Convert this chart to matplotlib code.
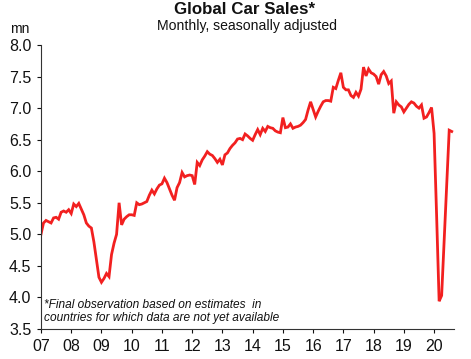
import numpy as np
import matplotlib
matplotlib.use('Agg')
from matplotlib import pyplot as plt

plt.rcParams['font.family'] = ['Liberation Sans', 'DejaVu Sans']

# monthly global car sales, mn, seasonally adjusted (Jan 2007 - Aug 2020)
y2007 = [5.00, 5.18, 5.22, 5.20, 5.18, 5.26, 5.27, 5.24, 5.35, 5.37, 5.35, 5.39]
y2008 = [5.33, 5.48, 5.44, 5.49, 5.40, 5.31, 5.18, 5.13, 5.10, 4.88, 4.60, 4.32]
y2009 = [4.24, 4.30, 4.38, 4.33, 4.68, 4.86, 5.00, 5.50, 5.15, 5.24, 5.28, 5.31]
y2010 = [5.31, 5.30, 5.50, 5.47, 5.48, 5.50, 5.52, 5.62, 5.70, 5.64, 5.72, 5.78]
y2011 = [5.80, 5.89, 5.82, 5.72, 5.62, 5.54, 5.74, 5.82, 5.98, 5.91, 5.93, 5.94]
y2012 = [5.93, 5.79, 6.14, 6.09, 6.18, 6.24, 6.31, 6.27, 6.25, 6.20, 6.14, 6.19]
y2013 = [6.10, 6.26, 6.29, 6.36, 6.41, 6.45, 6.51, 6.52, 6.50, 6.59, 6.56, 6.52]
y2014 = [6.49, 6.58, 6.66, 6.58, 6.68, 6.63, 6.71, 6.69, 6.68, 6.64, 6.62, 6.61]
y2015 = [6.85, 6.69, 6.70, 6.75, 6.68, 6.70, 6.71, 6.73, 6.77, 6.82, 6.97, 7.10]
y2016 = [6.98, 6.86, 6.95, 7.03, 7.10, 7.12, 7.12, 7.11, 7.33, 7.31, 7.44, 7.56]
y2017 = [7.33, 7.29, 7.29, 7.20, 7.17, 7.25, 7.19, 7.30, 7.65, 7.51, 7.62, 7.56]
y2018 = [7.54, 7.50, 7.38, 7.53, 7.58, 7.51, 7.39, 7.43, 6.92, 7.10, 7.05, 7.02]
y2019 = [6.94, 7.00, 7.06, 7.10, 7.08, 7.03, 7.00, 7.05, 6.84, 6.86, 6.93, 7.01]
y2020 = [6.60, 5.30, 3.94, 4.03, 4.90, 5.78, 6.65, 6.63]

sales = np.array(y2007 + y2008 + y2009 + y2010 + y2011 + y2012 + y2013
                 + y2014 + y2015 + y2016 + y2017 + y2018 + y2019 + y2020)
dates = 2007 + np.arange(len(sales)) / 12

years = list(range(2007, 2021))
year_labels = ['%02d' % (y % 100) for y in years]
yticks = np.arange(3.5, 8.01, 0.5)

fig = plt.figure(figsize=(4.71, 3.59), dpi=100)
ax = fig.add_axes([0.087, 0.0836, 0.877, 0.791])

ax.plot(dates, sales, color='#f22020', linewidth=2.0, solid_joinstyle='miter')

ax.set_xlim(2007, 2020.66)
ax.set_ylim(3.5, 8.0)
ax.set_xticks(years)
ax.set_xticklabels(year_labels)
ax.set_yticks(yticks)
ax.set_yticklabels(['%.1f' % v for v in yticks])

for s in ['top', 'right']:
    ax.spines[s].set_visible(False)
for s in ['left', 'bottom']:
    ax.spines[s].set_color('#333333')
    ax.spines[s].set_linewidth(0.8)
ax.tick_params(axis='y', direction='out', length=3, width=0.8, pad=4,
               labelsize=11.5, colors='#111111')
ax.tick_params(axis='x', direction='out', length=3, width=0.8, pad=4.5,
               labelsize=11.5, colors='#111111')

fig.text(0.519, 0.973, 'Global Car Sales*', ha='center', va='center',
         fontsize=12.2, fontweight='bold', color='#111111')
fig.text(0.524, 0.928, 'Monthly, seasonally adjusted', ha='center',
         va='center', fontsize=10.1, color='#111111')
fig.text(0.042, 0.919, 'mn', ha='center', va='center', fontsize=10,
         color='#111111')
fig.text(0.093, 0.150, '*Final observation based on estimates  in',
         ha='left', va='center', fontsize=8.6, style='italic', color='#111111')
fig.text(0.093, 0.114, 'countries for which data are not yet available',
         ha='left', va='center', fontsize=8.6, style='italic', color='#111111')

fig.savefig('out.png', dpi=100)
